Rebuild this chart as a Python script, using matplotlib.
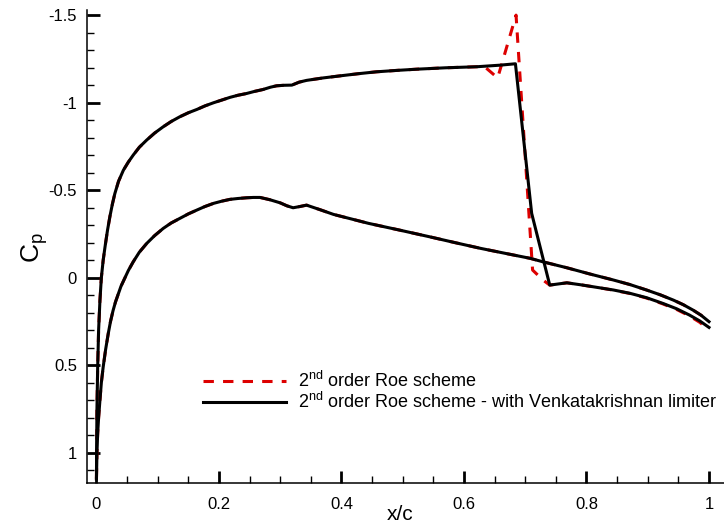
import matplotlib
matplotlib.use("Agg")
import matplotlib.pyplot as plt
from matplotlib.ticker import MultipleLocator, FuncFormatter

plt.rcParams['font.family'] = ['Liberation Sans', 'DejaVu Sans']
plt.rcParams['mathtext.default'] = 'regular'
plt.rcParams['axes.unicode_minus'] = False

# ---- data ----
# upper surface, solution with Venkatakrishnan limiter
x_upper = [0.0, 0.0002, 0.0008, 0.002, 0.0035, 0.0057, 0.008, 0.011, 0.014, 0.018, 0.022,
           0.026, 0.030, 0.036, 0.044, 0.052, 0.060, 0.070, 0.082, 0.095, 0.109, 0.122,
           0.136, 0.150, 0.164, 0.177, 0.191, 0.205, 0.218, 0.231, 0.245, 0.258, 0.272,
           0.284, 0.294, 0.306, 0.319, 0.331, 0.343, 0.370, 0.398, 0.427, 0.457, 0.490,
           0.523, 0.570, 0.621, 0.659, 0.684, 0.7105, 0.740, 0.768, 0.792, 0.817, 0.844,
           0.871, 0.898, 0.925, 0.947, 0.968, 0.985, 1.0]
cp_upper_lim = [1.15, 1.0, 0.75, 0.51, 0.30, 0.129, 0.0, -0.10, -0.176, -0.27, -0.35,
                -0.42, -0.48, -0.55, -0.614, -0.66, -0.70, -0.745, -0.786, -0.826, -0.862, -0.892,
                -0.919, -0.942, -0.961, -0.981, -0.999, -1.015, -1.030, -1.042, -1.052, -1.064, -1.075,
                -1.088, -1.096, -1.099, -1.100, -1.117, -1.127, -1.141, -1.153, -1.165, -1.176, -1.184,
                -1.191, -1.199, -1.205, -1.214, -1.222, -0.367, 0.043, 0.030, 0.042, 0.056, 0.071,
                0.090, 0.115, 0.148, 0.178, 0.214, 0.248, 0.285]

# upper surface, plain 2nd order Roe scheme (differs around the shock)
x_upper_roe = [0.0, 0.0002, 0.0008, 0.002, 0.0035, 0.0057, 0.008, 0.011, 0.014, 0.018, 0.022,
               0.026, 0.030, 0.036, 0.044, 0.052, 0.060, 0.070, 0.082, 0.095, 0.109, 0.122,
               0.136, 0.150, 0.164, 0.177, 0.191, 0.205, 0.218, 0.231, 0.245, 0.258, 0.272,
               0.284, 0.294, 0.306, 0.319, 0.331, 0.343, 0.370, 0.398, 0.427, 0.457, 0.490,
               0.523, 0.570, 0.621, 0.633, 0.655, 0.685, 0.712, 0.729, 0.740, 0.768, 0.792,
               0.817, 0.844, 0.871, 0.898, 0.925, 0.947, 0.968, 0.985, 1.0]
cp_upper_roe = [1.15, 1.0, 0.75, 0.51, 0.30, 0.129, 0.0, -0.10, -0.176, -0.27, -0.35,
                -0.42, -0.48, -0.55, -0.614, -0.66, -0.70, -0.745, -0.786, -0.826, -0.862, -0.892,
                -0.919, -0.942, -0.961, -0.981, -0.999, -1.015, -1.030, -1.042, -1.052, -1.064, -1.075,
                -1.088, -1.096, -1.099, -1.100, -1.117, -1.127, -1.141, -1.153, -1.165, -1.176, -1.184,
                -1.191, -1.199, -1.205, -1.207, -1.141, -1.50, -0.043, 0.014, 0.043, 0.030, 0.042,
                0.056, 0.072, 0.091, 0.117, 0.151, 0.182, 0.219, 0.256, 0.300]

# lower surface (both schemes coincide)
x_lower = [0.0, 0.0007, 0.002, 0.0035, 0.0057, 0.008, 0.011, 0.015, 0.0193, 0.023, 0.027,
           0.031, 0.035, 0.040, 0.044, 0.052, 0.060, 0.070, 0.082, 0.095, 0.109, 0.122,
           0.136, 0.150, 0.164, 0.177, 0.191, 0.205, 0.218, 0.231, 0.245, 0.256, 0.267,
           0.283, 0.300, 0.311, 0.321, 0.332, 0.343, 0.365, 0.387, 0.415, 0.444, 0.494,
           0.544, 0.585, 0.627, 0.668, 0.708, 0.729, 0.768, 0.806, 0.844, 0.871, 0.898,
           0.920, 0.942, 0.958, 0.974, 0.987, 1.0]
cp_lower = [1.15, 1.0, 0.89, 0.80, 0.70, 0.60, 0.51, 0.41, 0.319, 0.25, 0.19,
            0.14, 0.10, 0.05, 0.02, -0.04, -0.09, -0.145, -0.195, -0.24, -0.281, -0.312,
            -0.338, -0.364, -0.386, -0.406, -0.424, -0.437, -0.447, -0.452, -0.456, -0.458, -0.458,
            -0.445, -0.427, -0.41, -0.399, -0.406, -0.414, -0.388, -0.361, -0.336, -0.31, -0.272,
            -0.233, -0.200, -0.167, -0.138, -0.11, -0.09, -0.056, -0.02, 0.014, 0.04, 0.071,
            0.098, 0.129, 0.155, 0.186, 0.215, 0.252]

label_roe = r"2$^{nd}$ order Roe scheme"
label_lim = r"2$^{nd}$ order Roe scheme - with Venkatakrishnan limiter"
x_ticks = [0, 0.2, 0.4, 0.6, 0.8, 1.0]
y_ticks = [-1.5, -1.0, -0.5, 0.0, 0.5, 1.0]

# ---- figure ----
fig = plt.figure(figsize=(7.24, 5.29), dpi=100)
ax = fig.add_axes([0.1197, 0.087, 0.8803, 0.894])

red = '#dd0000'
dash = (0, (3.4, 3.0))
ax.plot(x_upper_roe, cp_upper_roe, color=red, lw=2.2, linestyle=dash, label=label_roe, zorder=2)
ax.plot(x_lower, cp_lower, color=red, lw=2.2, linestyle=dash, zorder=2)
ax.plot(x_upper, cp_upper_lim, color='black', lw=2.2, label=label_lim, zorder=3)
ax.plot(x_lower, cp_lower, color='black', lw=2.2, zorder=3)

ax.set_xlim(-0.016, 1.0245)
ax.set_ylim(1.174, -1.529)

for s in ['top', 'right']:
    ax.spines[s].set_visible(False)
for s in ['left', 'bottom']:
    ax.spines[s].set_linewidth(1.1)

ax.set_xticks(x_ticks)
ax.set_yticks(y_ticks)
ax.xaxis.set_minor_locator(MultipleLocator(0.05))
ax.yaxis.set_minor_locator(MultipleLocator(0.1))
fmt = FuncFormatter(lambda v, p: '%g' % v)
ax.xaxis.set_major_formatter(fmt)
ax.yaxis.set_major_formatter(fmt)
ax.tick_params(which='major', direction='in', length=9, width=2.0, labelsize=12)
ax.tick_params(which='minor', direction='in', length=5, width=1.0)
ax.tick_params(axis='x', which='major', pad=10)
ax.tick_params(axis='y', which='major', pad=7)

ax.set_xlabel('x/c', fontsize=15)
ax.xaxis.set_label_coords(0.4916, -0.046)
ax.set_ylabel('C$_p$', fontsize=19)
ax.yaxis.set_label_coords(-0.058, 0.497)

leg = ax.legend(loc='upper left', bbox_to_anchor=(203 / 724, 1 - 371 / 529),
                bbox_transform=fig.transFigure, frameon=False, fontsize=13,
                handlelength=4.6, handletextpad=0.65, labelspacing=0.05,
                borderpad=0, borderaxespad=0)

fig.savefig('out.png', dpi=100)
